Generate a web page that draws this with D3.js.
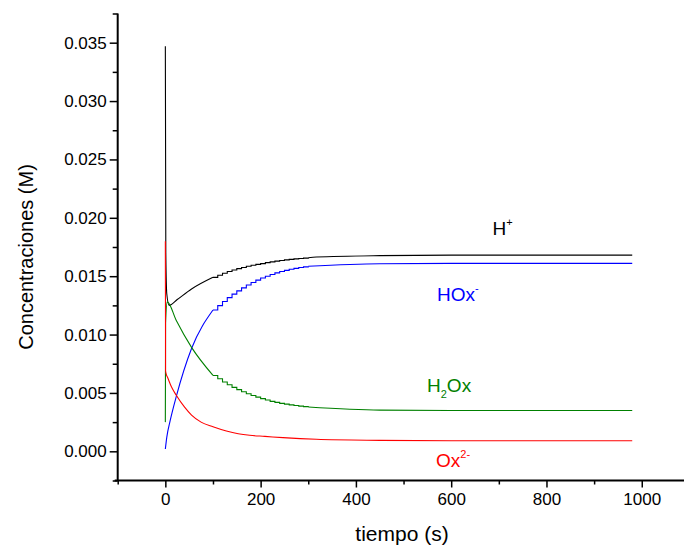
<!DOCTYPE html>
<html>
<head>
<meta charset="utf-8">
<script src="https://cdn.jsdelivr.net/npm/d3@7"></script>
<style>
  html, body { margin: 0; padding: 0; background: #fff; }
  svg { display: block; font-family: "Liberation Sans", Arial, sans-serif; }
</style>
</head>
<body>
<svg id="chart" width="684" height="550"></svg>
<script>
// Concentrations (M) of each species vs. time (s).
// The smooth parts of each curve:
const tH   = [0, 1, 3, 8, 25, 55, 100, 300, 317, 450, 600, 800, 980];
const cH   = [0.0347, 0.0170, 0.0135, 0.0125, 0.0130, 0.0139, 0.0149, 0.01658, 0.01664, 0.01676, 0.0168, 0.0168, 0.0168];

const tHOx = [0, 3, 10, 23, 55, 100, 300, 450, 600, 800, 980];
const cHOx = [0.0002, 0.0012, 0.0026, 0.0047, 0.0088, 0.0121, 0.01585, 0.01607, 0.0161, 0.0161, 0.0161];

const tH2Ox = [0, 0.5, 4, 23, 55, 100, 300, 450, 600, 800, 980];
const cH2Ox = [0.0025, 0.0110, 0.0128, 0.0112, 0.0089, 0.0065, 0.00379, 0.00353, 0.0035, 0.0035, 0.0035];

const tOx = [0, 0.5, 2, 5, 13, 23, 40, 55, 75, 100, 153, 177, 209, 247, 317, 450, 600, 800, 980];
const cOx = [0.0180, 0.0069, 0.0066, 0.0063, 0.0055, 0.0048, 0.0038, 0.0031, 0.0025, 0.0021, 0.0015, 0.00137, 0.00128, 0.00117, 0.00103, 0.00094, 0.0009, 0.0009, 0.0009];

// Stepwise sampled stretch between 100 s and 300 s
const tStep     = [100, 110, 120, 130, 140, 150, 160, 170, 180, 190, 200, 210, 220, 230, 240, 250, 260, 270, 280, 290, 300];
const cHStep    = [0.0149, 0.01508, 0.01525, 0.0154, 0.01553, 0.01565, 0.01575, 0.01585, 0.01594, 0.01601, 0.01608, 0.01616, 0.01623, 0.01629, 0.01635, 0.0164, 0.01644, 0.01648, 0.01652, 0.01655, 0.01658];
const cHOxStep  = [0.0121, 0.01248, 0.01283, 0.01316, 0.01346, 0.01374, 0.01400, 0.01424, 0.01446, 0.01466, 0.01484, 0.01500, 0.01515, 0.01528, 0.01540, 0.01550, 0.01559, 0.01567, 0.01574, 0.01580, 0.01585];
const cH2OxStep = [0.0065, 0.00621, 0.00594, 0.00570, 0.00548, 0.00528, 0.00510, 0.00493, 0.00478, 0.00464, 0.00451, 0.00439, 0.00428, 0.00419, 0.00411, 0.00404, 0.00398, 0.00392, 0.00387, 0.00383, 0.00379];

const xMajor = [0, 200, 400, 600, 800, 1000];
const xMinor = [-100, 100, 300, 500, 700, 900, 1100];
const yMajor = [0, 0.005, 0.010, 0.015, 0.020, 0.025, 0.030, 0.035];
const yMinor = [-0.0025, 0.0025, 0.0075, 0.0125, 0.0175, 0.0225, 0.0275, 0.0325, 0.0375];

const series = [
  { t: tH,    c: cH,    step: cHStep,    color: "#000000" },
  { t: tHOx,  c: cHOx,  step: cHOxStep,  color: "#0000ff" },
  { t: tH2Ox, c: cH2Ox, step: cH2OxStep, color: "#008000" },
  { t: tOx,   c: cOx,   step: null,      color: "#ff0000" }
];

const svg = d3.select("#chart");
const x = d3.scaleLinear().domain([-100, 1100]).range([117.7, 689.4]);
const y = d3.scaleLinear().domain([-0.0025, 0.0375]).range([480.5, 13.5]);

const smooth = d3.line().x(d => x(d[0])).y(d => y(d[1])).curve(d3.curveMonotoneX);
const stepped = d3.line().x(d => x(d[0])).y(d => y(d[1])).curve(d3.curveStepAfter);

function drawPath(pts, gen, color) {
  svg.append("path")
    .datum(pts)
    .attr("fill", "none")
    .attr("stroke", color)
    .attr("stroke-width", 1.1)
    .attr("d", gen);
}

series.forEach(s => {
  const pts = s.t.map((t, i) => [t, s.c[i]]);
  if (s.step) {
    drawPath(pts.filter(p => p[0] <= 100), smooth, s.color);
    drawPath(tStep.map((t, i) => [t, s.step[i]]), stepped, s.color);
    drawPath(pts.filter(p => p[0] >= 300), smooth, s.color);
  } else {
    drawPath(pts, smooth, s.color);
  }
});

// axes
const fmt = d3.format(".3f");
const yAxis = d3.axisLeft(y).tickValues(yMajor).tickFormat(fmt).tickSize(8).tickPadding(3);
const yAxisMinor = d3.axisLeft(y).tickValues(yMinor).tickFormat("").tickSize(5);
const xAxis = d3.axisBottom(x).tickValues(xMajor).tickFormat(d3.format("d")).tickSize(7).tickPadding(5);
const xAxisMinor = d3.axisBottom(x).tickValues(xMinor).tickFormat("").tickSize(4);

function styleAxis(g) {
  g.select(".domain").attr("stroke", "#000").attr("stroke-width", 2);
  g.selectAll(".tick line").attr("stroke", "#000").attr("stroke-width", 1.5);
  g.selectAll(".tick text").attr("fill", "#000").attr("font-size", 17)
    .attr("font-family", "Liberation Sans, Arial, sans-serif");
}

const gy = svg.append("g").attr("transform", `translate(${x(-100)},0)`);
gy.call(yAxis).call(styleAxis);
gy.select(".domain").attr("d", `M0,${y(-0.0025)}V${y(0.0375)}`);
const gyMin = svg.append("g").attr("transform", `translate(${x(-100)},0)`);
gyMin.call(yAxisMinor).call(styleAxis);
gyMin.select(".domain").remove();

const gx = svg.append("g").attr("transform", `translate(0,${y(-0.0025)})`);
gx.call(xAxis).call(styleAxis);
gx.select(".domain").attr("d", `M${x(-100) - 3},0H${x(1100)}`);
const gxMin = svg.append("g").attr("transform", `translate(0,${y(-0.0025)})`);
gxMin.call(xAxisMinor).call(styleAxis);
gxMin.select(".domain").remove();

// axis titles
svg.append("text")
  .attr("x", 402).attr("y", 541)
  .attr("text-anchor", "middle")
  .attr("font-size", 21)
  .text("tiempo (s)");

svg.append("text")
  .attr("transform", `translate(32.5,257) rotate(-90)`)
  .attr("text-anchor", "middle")
  .attr("font-size", 20)
  .text("Concentraciones (M)");

// species labels
function label(px, py, color, parts) {
  const t = svg.append("text").attr("x", px).attr("y", py)
    .attr("fill", color).attr("font-size", 19);
  parts.forEach(p => {
    const sp = t.append("tspan").text(p.s);
    if (p.sup) sp.attr("font-size", 11).attr("dy", -9);
    if (p.sub) sp.attr("font-size", 11).attr("dy", 6);
    if (p.back) sp.attr("dy", p.back);
  });
}
label(492.5, 235, "#000000", [{ s: "H" }, { s: "+", sup: true }]);
label(437, 301, "#0000ff", [{ s: "HOx" }, { s: "-", sup: true }]);
label(427, 392, "#008000", [{ s: "H" }, { s: "2", sub: true }, { s: "Ox", back: -6 }]);
label(436, 467, "#ff0000", [{ s: "Ox" }, { s: "2-", sup: true }]);
</script>
</body>
</html>
